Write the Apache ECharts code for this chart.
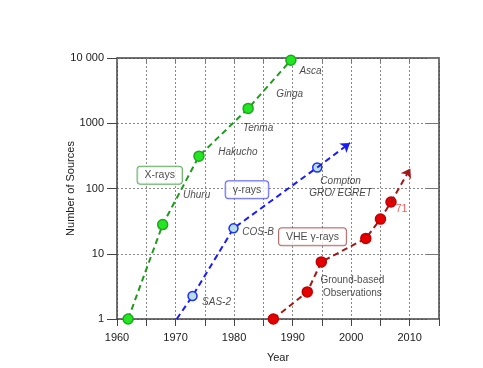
<!DOCTYPE html>
<html>
<head>
<meta charset="utf-8">
<script src="https://cdn.jsdelivr.net/npm/echarts@6/dist/echarts.min.js"></script>
<style>
  html, body { margin: 0; padding: 0; background: #fff; }
  #chart { width: 483px; height: 368px; }
</style>
</head>
<body>
<div id="chart"></div>
<script>
// X-ray missions
const xrayYears = [1961.9, 1967.8, 1974.0, 1982.4, 1989.7];
const xraySources = [1, 28, 313, 1690, 9250];
// gamma-ray satellites (first point is where the trend line starts)
const gammaYears = [1970.2, 1972.9, 1979.9, 1994.2];
const gammaSources = [1, 2.25, 24.5, 210];
const gammaArrowEnd = [1999.8, 500];
// VHE gamma-rays, ground based
const vheYears = [1986.7, 1992.5, 1994.9, 2002.5, 2005.0, 2006.8];
const vheSources = [1, 2.6, 7.5, 17.2, 34, 62];
const vheArrowEnd = [2010.1, 203];

// mission labels
const missionNames = ['Asca', 'Ginga', 'Tenma', 'Hakucho', 'Uhuru', 'SAS-2', 'COS-B', 'Compton\nGRO/ EGRET'];
const missionYears = [1993.05, 1989.5, 1984.1, 1980.65, 1973.6, 1977.0, 1984.1, 1998.2];
const missionSources = [6340, 2790, 841, 365, 79, 1.82, 21.5, 103];

// band boxes
const bandNames = ['X-rays', 'γ-rays', 'VHE γ-rays'];
const bandYears = [1967.3, 1982.2, 1993.4];
const bandSources = [160, 96, 18.2];

const noteNames = ['Ground-based\nObservations', '71'];
const noteYears = [2000.2, 2008.6];
const noteSources = [3.1, 47.9];

const FONT = 'Liberation Sans, Arial, sans-serif';
const bandColors = ['#3c9a3c', '#3c3cf0', '#a04a4a'];
const noteColors = ['#222', '#ff3030'];

const pairs = (xs, ys) => xs.map((x, i) => [x, ys[i]]);

const chart = echarts.init(document.getElementById('chart'), null, { renderer: 'canvas' });

function trend(name, xs, ys, lineColor, fill, edge, size, arrowEnd) {
  const data = pairs(xs, ys).map((p, i) =>
    (name === 'gamma' && i === 0) ? { value: p, symbol: 'none' } : { value: p });
  const s = {
    name: name,
    type: 'line',
    data: data,
    symbol: 'circle',
    symbolSize: size,
    z: 3,
    lineStyle: { color: lineColor, width: 2, type: [6, 4] },
    itemStyle: { color: fill, borderColor: edge, borderWidth: 1.5 }
  };
  if (arrowEnd) {
    s.markLine = {
      silent: true,
      symbol: ['none', 'arrow'],
      symbolSize: 9,
      label: { show: false },
      lineStyle: { color: lineColor, width: 2, type: [6, 4] },
      emphasis: { disabled: true },
      data: [[{ coord: [xs[xs.length - 1], ys[ys.length - 1]] }, { coord: arrowEnd }]]
    };
  }
  return s;
}

function textSeries(names, xs, ys, labelFor) {
  return {
    type: 'scatter',
    symbolSize: 0,
    silent: true,
    z: 5,
    data: names.map((n, i) => ({ name: n, value: [xs[i], ys[i]], label: labelFor(i) })),
    label: {
      show: true,
      position: 'inside',
      formatter: '{b}',
      fontFamily: FONT,
      fontSize: 10,
      color: '#1a1a1a',
      textBorderWidth: 0,
      align: 'center',
      verticalAlign: 'middle'
    }
  };
}

const option = {
  animation: false,
  grid: { left: 117, right: 44, top: 58, bottom: 49, outerBoundsMode: 'none' },
  xAxis: [
    {
      type: 'value',
      min: 1960,
      max: 2015,
      interval: 5,
      name: 'Year',
      nameLocation: 'middle',
      nameGap: 33,
      nameMoveOverlap: false,
      nameTextStyle: { fontFamily: FONT, fontSize: 11, color: '#1a1a1a' },
      axisLine: { show: true, onZero: false, lineStyle: { color: '#444', width: 1.5 } },
      axisTick: { show: true, length: 7, lineStyle: { color: '#444' } },
      axisLabel: {
        margin: 13,
        fontFamily: FONT,
        fontSize: 11,
        color: '#1a1a1a',
        formatter: (v) => (v % 10 === 0 && v < 2015 ? String(v) : '')
      },
      splitLine: { show: true, lineStyle: { color: '#888', type: [2, 2] } }
    },
    {
      type: 'value',
      position: 'top',
      min: 1960,
      max: 2015,
      interval: 5,
      axisLine: { show: true, onZero: false, lineStyle: { color: '#444', width: 1.5 } },
      axisTick: { show: true, inside: true, length: 5, lineStyle: { color: '#777' } },
      axisLabel: { show: false },
      splitLine: { show: false }
    }
  ],
  yAxis: [
    {
      type: 'log',
      logBase: 10,
      min: 1,
      max: 10000,
      name: 'Number of Sources',
      nameLocation: 'middle',
      nameGap: 41,
      nameMoveOverlap: false,
      nameTextStyle: { fontFamily: FONT, fontSize: 11, color: '#1a1a1a' },
      axisLine: { show: true, onZero: false, lineStyle: { color: '#444', width: 1.5 } },
      axisTick: { show: true, length: 10, lineStyle: { color: '#444' } },
      axisLabel: {
        margin: 13,
        fontFamily: FONT,
        fontSize: 11,
        color: '#1a1a1a',
        formatter: (v) => (v === 10000 ? '10 000' : String(v))
      },
      splitLine: { show: true, lineStyle: { color: '#888', type: [2, 2] } }
    },
    {
      type: 'log',
      logBase: 10,
      min: 1,
      max: 10000,
      position: 'right',
      axisLine: { show: true, onZero: false, lineStyle: { color: '#444', width: 1.5 } },
      axisTick: { show: true, inside: true, length: 12, lineStyle: { color: '#777' } },
      axisLabel: { show: false },
      splitLine: { show: false }
    }
  ],
  series: [
    trend('xray', xrayYears, xraySources, '#1f9a1f', '#22e622', '#1ea81e', 10, null),
    trend('gamma', gammaYears, gammaSources, '#1a1aff', '#b8e0e4', '#2030ff', 9, gammaArrowEnd),
    trend('vhe', vheYears, vheSources, '#a01818', '#e40000', '#c00000', 10, vheArrowEnd),
    textSeries(missionNames, missionYears, missionSources, () => ({ fontStyle: 'italic', lineHeight: 12 })),
    textSeries(bandNames, bandYears, bandSources, (i) => ({
      fontSize: 10.5,
      backgroundColor: '#fff',
      borderColor: bandColors[i],
      borderWidth: 1,
      borderRadius: 3,
      padding: [3, 7, 3, 7]
    })),
    textSeries(noteNames, noteYears, noteSources, (i) => ({
      color: noteColors[i],
      lineHeight: 13,
      fontSize: i === 1 ? 10.5 : 10
    }))
  ]
};

chart.setOption(option);
</script>
</body>
</html>
